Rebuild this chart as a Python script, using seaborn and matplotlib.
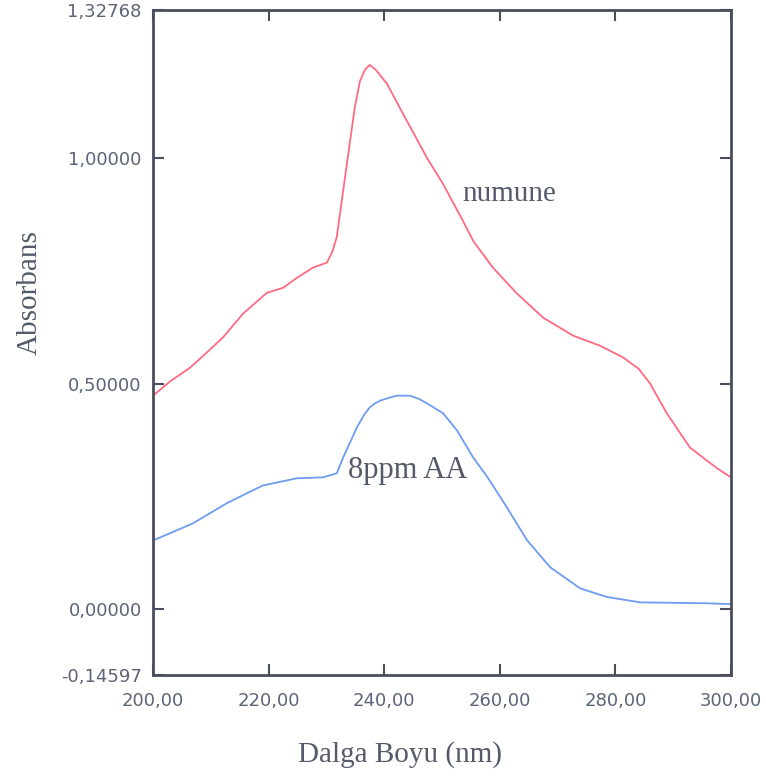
import numpy as np
import pandas as pd
import matplotlib
matplotlib.use("Agg")
import matplotlib.pyplot as plt
import seaborn as sns

# Absorbance spectra (wavelength in nm)
numune_nm = [200, 203, 206.4, 209, 212.1, 215.6, 219.7, 222.5, 225, 227.7, 230.1,
             231.1, 231.8, 232.9, 234.1, 234.9, 235.8, 236.7, 237.5, 238.5, 240.5,
             242.7, 245, 247.4, 250.2, 253.6, 255.4, 258.8, 263.0, 267.5, 272.7,
             277.3, 281.3, 284, 286.0, 288.9, 292.9, 297.6, 300]
numune_abs = [0.473, 0.505, 0.535, 0.565, 0.602, 0.655, 0.701, 0.712, 0.735, 0.757, 0.768,
              0.794, 0.825, 0.927, 1.038, 1.110, 1.170, 1.196, 1.206, 1.196, 1.164,
              1.111, 1.057, 1.000, 0.942, 0.861, 0.816, 0.757, 0.699, 0.646, 0.606,
              0.584, 0.558, 0.533, 0.500, 0.434, 0.358, 0.312, 0.292]

aa_nm = [200, 206.9, 212.8, 219.0, 224.9, 229.4, 231.8, 232.9, 235.3, 236.5, 237.5,
         238.3, 239.3, 241, 242.2, 244.5, 246, 247.4, 250.2, 252.6, 255.4, 258,
         261.2, 264.7, 268.7, 273.9, 278.5, 284.3, 290, 295.8, 300]
aa_abs = [0.152, 0.190, 0.235, 0.274, 0.290, 0.292, 0.301, 0.336, 0.403, 0.430, 0.447,
          0.455, 0.462, 0.469, 0.473, 0.473, 0.466, 0.456, 0.434, 0.396, 0.336, 0.290,
          0.226, 0.153, 0.093, 0.046, 0.027, 0.015, 0.014, 0.013, 0.011]

x_ticks = [200, 220, 240, 260, 280, 300]
y_ticks = [-0.14597, 0.0, 0.5, 1.0, 1.32768]

sns.set_style("ticks")
plt.rcParams["font.family"] = ["DejaVu Sans"]

fig = plt.figure(figsize=(7.66, 7.78), dpi=100)
ax = fig.add_axes([0.1997, 0.1324, 0.7546, 0.8547])

df = pd.concat([
    pd.DataFrame({"nm": numune_nm, "abs": numune_abs, "seri": "numune"}),
    pd.DataFrame({"nm": aa_nm, "abs": aa_abs, "seri": "8ppm AA"}),
])
sns.lineplot(data=df, x="nm", y="abs", hue="seri",
             palette={"numune": "#ff6a82", "8ppm AA": "#6e9cf0"},
             linewidth=1.3, legend=False, ax=ax, estimator=None, sort=True)

ax.set_xlim(200, 300)
ax.set_ylim(-0.14597, 1.32768)

tick_col = "#5c6478"
ax.set_xticks(x_ticks)
ax.set_xticklabels([f"{v:.2f}".replace(".", ",") for v in x_ticks])
ax.set_yticks(y_ticks)
ax.set_yticklabels([f"{v:.5f}".replace(".", ",") for v in y_ticks])
ax.tick_params(axis="both", direction="in", length=8, width=1.5, color="#4a4d5c",
               labelsize=13, labelcolor=tick_col, top=True, right=True)
ax.tick_params(axis="x", pad=12)
ax.tick_params(axis="y", pad=8)

for s in ax.spines.values():
    s.set_color("#4a4d5c")
    s.set_linewidth(2)

serif = ["Liberation Serif", "DejaVu Serif"]
ax.set_xlabel("")
ax.set_ylabel("")
fig.text(400 / 766, 1 - 755 / 778, "Dalga Boyu (nm)", family=serif, fontsize=21,
         color="#555a6a", ha="center", va="center")
fig.text(30 / 766, 1 - 293 / 778, "Absorbans", family=serif, fontsize=21,
         color="#555a6a", ha="center", va="center", rotation=90)

ax.text(253.6, 0.905, "numune", family=serif, fontsize=21, color="#555a6a",
        ha="left", va="baseline")
ax.text(233.7, 0.290, "8ppm AA", family=serif, fontsize=22, color="#555a6a",
        ha="left", va="baseline")

fig.savefig("out.png", dpi=100)
